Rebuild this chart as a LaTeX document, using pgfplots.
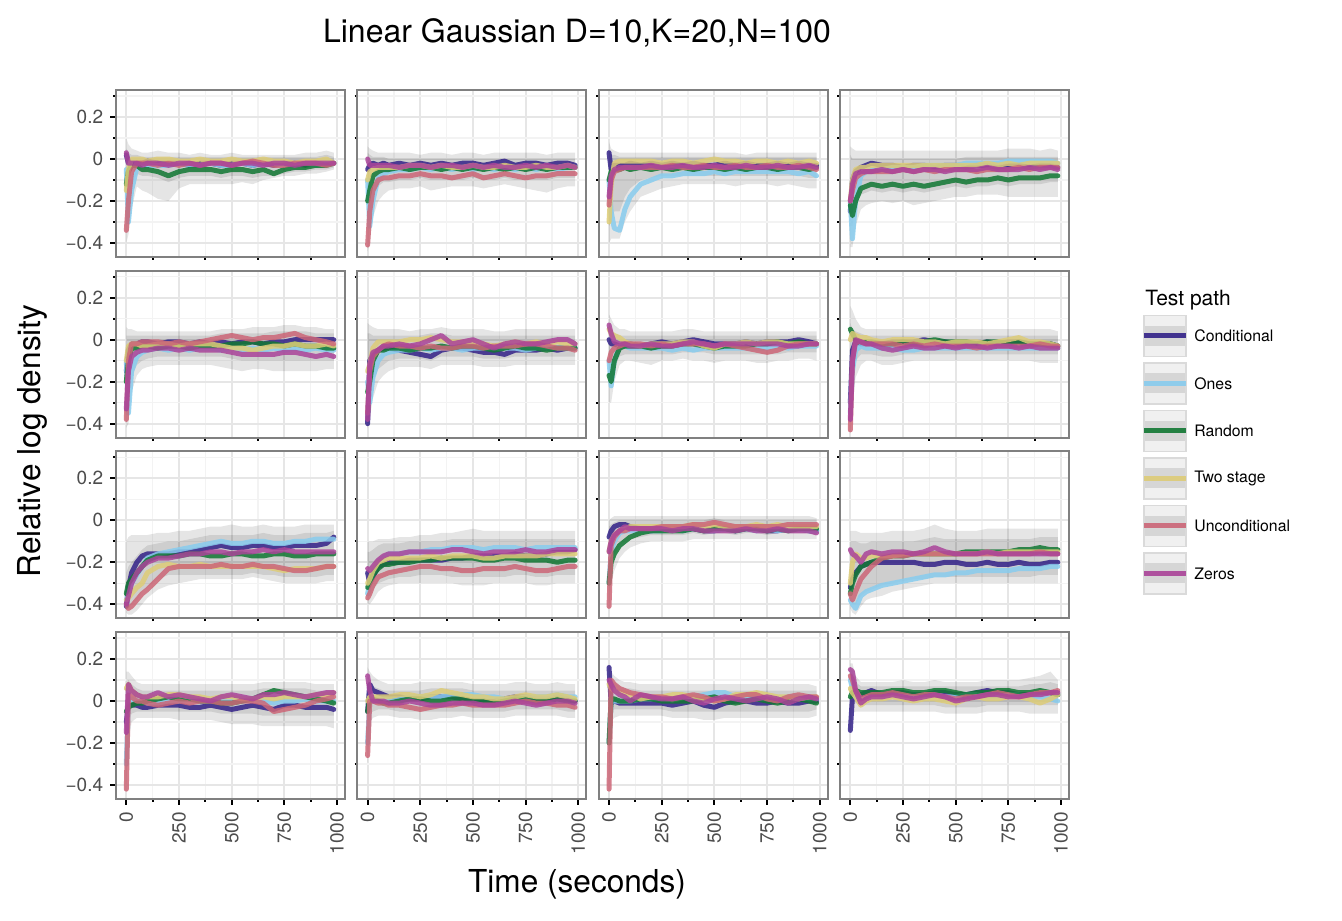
\documentclass[border=0pt]{standalone}
\usepackage{fontspec}
\setmainfont{TeX Gyre Heros}
\usepackage{pgfplots}
\pgfplotsset{compat=1.18}
\usepackage{pgfplotstable}
\usepgfplotslibrary{fillbetween}

\definecolor{cC}{HTML}{332288}
\definecolor{cO}{HTML}{88CCEE}
\definecolor{cR}{HTML}{117733}
\definecolor{cT}{HTML}{DDCC77}
\definecolor{cU}{HTML}{CC6677}
\definecolor{cZ}{HTML}{AA4499}
\definecolor{gmaj}{HTML}{E6E6E6}
\definecolor{gmin}{HTML}{F3F3F3}
\definecolor{gborder}{HTML}{808080}
\definecolor{tickgrey}{HTML}{4D4D4D}
\definecolor{lgout}{HTML}{F0F0F0}
\definecolor{lgmid}{HTML}{D6D6D6}
\definecolor{lgbord}{HTML}{DADADA}

% ---------------- data: row a (top) ----------------
\pgfplotstableread{
t C O R T U Z lo hi ilo ihi
0 0.02 -0.05 -0.12 -0.15 -0.34 0.03 -0.40 0.10 -0.30 0.05
10 -0.02 -0.30 -0.06 -0.05 -0.20 -0.02 -0.36 0.07 -0.25 0.03
25 -0.02 -0.15 -0.03 0.00 -0.06 -0.02 -0.24 0.05 -0.12 0.02
50 -0.02 -0.04 -0.03 0.00 -0.02 -0.02 -0.13 0.04 -0.07 0.02
75 -0.02 -0.03 -0.05 0.00 -0.02 -0.03 -0.15 0.03 -0.08 0.01
100 -0.01 -0.03 -0.05 -0.01 -0.02 -0.02 -0.16 0.03 -0.08 0.01
150 -0.02 -0.03 -0.06 0.00 -0.03 -0.02 -0.19 0.04 -0.09 0.01
200 -0.02 -0.03 -0.08 0.00 -0.02 -0.03 -0.20 0.03 -0.11 0.01
250 -0.02 -0.02 -0.06 -0.01 -0.03 -0.02 -0.14 0.03 -0.09 0.01
300 -0.03 -0.03 -0.05 -0.01 -0.02 -0.02 -0.12 0.02 -0.08 0.01
350 -0.02 -0.03 -0.05 0.00 -0.03 -0.03 -0.12 0.03 -0.08 0.01
400 -0.02 -0.02 -0.05 -0.01 -0.02 -0.02 -0.12 0.02 -0.08 0.01
450 -0.03 -0.03 -0.06 -0.01 -0.02 -0.02 -0.12 0.02 -0.09 0.01
500 -0.02 -0.03 -0.05 0.00 -0.03 -0.03 -0.12 0.03 -0.08 0.01
550 -0.02 -0.02 -0.05 -0.01 -0.02 -0.02 -0.11 0.02 -0.08 0.01
600 -0.03 -0.03 -0.06 -0.01 -0.01 -0.02 -0.12 0.02 -0.09 0.01
650 -0.02 -0.02 -0.05 0.00 -0.02 -0.03 -0.10 0.02 -0.08 0.01
700 -0.03 -0.02 -0.07 -0.01 -0.03 -0.02 -0.09 0.02 -0.08 0.01
750 -0.02 -0.03 -0.05 -0.01 -0.03 -0.02 -0.08 0.02 -0.07 0.01
800 -0.02 -0.02 -0.04 -0.02 -0.02 -0.03 -0.08 0.02 -0.06 0.01
850 -0.03 -0.02 -0.04 -0.01 -0.02 -0.02 -0.07 0.03 -0.06 0.01
900 -0.02 -0.03 -0.03 -0.01 -0.02 -0.02 -0.07 0.03 -0.05 0.01
950 -0.02 -0.02 -0.03 0.00 -0.03 -0.02 -0.06 0.04 -0.05 0.02
985 -0.02 -0.02 -0.02 -0.02 -0.02 -0.02 -0.05 0.03 -0.04 0.01
}\Taa

\pgfplotstableread{
t C O R T U Z lo hi ilo ihi
0 -0.05 -0.10 -0.20 -0.10 -0.41 0.00 -0.44 0.06 -0.30 0.03
10 -0.03 -0.32 -0.15 -0.06 -0.25 -0.03 -0.40 0.05 -0.30 0.02
25 -0.02 -0.20 -0.08 -0.05 -0.15 -0.03 -0.28 0.04 -0.18 0.01
50 -0.03 -0.09 -0.06 -0.04 -0.10 -0.03 -0.20 0.03 -0.13 0.01
75 -0.02 -0.07 -0.05 -0.04 -0.09 -0.03 -0.17 0.03 -0.11 0.01
100 -0.03 -0.06 -0.05 -0.04 -0.09 -0.03 -0.15 0.03 -0.11 0.00
150 -0.02 -0.05 -0.04 -0.04 -0.08 -0.04 -0.14 0.03 -0.10 0.00
200 -0.03 -0.05 -0.05 -0.03 -0.08 -0.03 -0.14 0.03 -0.10 0.00
250 -0.02 -0.04 -0.04 -0.03 -0.07 -0.03 -0.13 0.02 -0.09 0.00
300 -0.03 -0.05 -0.04 -0.04 -0.08 -0.04 -0.15 0.03 -0.10 0.00
350 -0.02 -0.04 -0.05 -0.03 -0.08 -0.03 -0.14 0.03 -0.10 0.00
400 -0.03 -0.05 -0.04 -0.04 -0.09 -0.03 -0.13 0.02 -0.10 0.00
450 -0.02 -0.04 -0.05 -0.04 -0.08 -0.04 -0.13 0.03 -0.10 0.00
500 -0.02 -0.05 -0.04 -0.03 -0.07 -0.03 -0.13 0.03 -0.09 0.00
550 -0.03 -0.04 -0.05 -0.04 -0.09 -0.04 -0.14 0.02 -0.10 0.00
600 -0.02 -0.05 -0.04 -0.04 -0.08 -0.03 -0.13 0.03 -0.10 0.00
650 -0.01 -0.04 -0.05 -0.03 -0.07 -0.04 -0.12 0.03 -0.09 0.00
700 -0.03 -0.05 -0.04 -0.04 -0.08 -0.04 -0.13 0.03 -0.10 0.00
750 -0.02 -0.04 -0.05 -0.04 -0.09 -0.03 -0.14 0.03 -0.10 0.00
800 -0.02 -0.05 -0.04 -0.03 -0.08 -0.04 -0.15 0.03 -0.10 0.00
850 -0.03 -0.04 -0.05 -0.04 -0.08 -0.03 -0.16 0.02 -0.10 0.00
900 -0.02 -0.05 -0.04 -0.04 -0.07 -0.04 -0.14 0.03 -0.09 0.00
950 -0.02 -0.04 -0.04 -0.03 -0.07 -0.03 -0.13 0.03 -0.09 0.00
985 -0.03 -0.04 -0.04 -0.04 -0.07 -0.04 -0.13 0.03 -0.09 0.00
}\Tab

\pgfplotstableread{
t C O R T U Z lo hi ilo ihi
0 0.03 -0.10 -0.10 -0.30 -0.22 -0.18 -0.40 0.08 -0.32 0.04
10 -0.05 -0.25 -0.06 -0.12 -0.10 -0.08 -0.38 0.05 -0.30 0.02
25 -0.03 -0.33 -0.05 -0.02 -0.06 -0.05 -0.38 0.04 -0.25 0.02
50 -0.03 -0.34 -0.05 -0.01 -0.05 -0.04 -0.38 0.03 -0.25 0.01
75 -0.03 -0.24 -0.04 -0.01 -0.04 -0.04 -0.30 0.03 -0.18 0.01
100 -0.02 -0.18 -0.05 -0.01 -0.04 -0.04 -0.25 0.03 -0.14 0.01
150 -0.03 -0.12 -0.04 -0.01 -0.04 -0.04 -0.18 0.03 -0.10 0.01
200 -0.02 -0.10 -0.05 -0.01 -0.04 -0.03 -0.16 0.03 -0.09 0.01
250 -0.03 -0.08 -0.04 -0.02 -0.04 -0.04 -0.14 0.03 -0.08 0.01
300 -0.02 -0.08 -0.05 -0.01 -0.03 -0.04 -0.13 0.03 -0.08 0.01
350 -0.03 -0.07 -0.04 -0.01 -0.04 -0.03 -0.12 0.03 -0.08 0.01
400 -0.02 -0.07 -0.05 -0.02 -0.04 -0.04 -0.12 0.03 -0.08 0.01
450 -0.03 -0.07 -0.04 -0.01 -0.03 -0.04 -0.12 0.03 -0.08 0.01
500 -0.03 -0.06 -0.04 0.00 -0.04 -0.03 -0.12 0.03 -0.08 0.01
550 -0.02 -0.07 -0.05 -0.01 -0.04 -0.04 -0.12 0.03 -0.08 0.01
600 -0.03 -0.06 -0.04 -0.01 -0.03 -0.04 -0.13 0.03 -0.08 0.01
650 -0.02 -0.06 -0.05 -0.02 -0.04 -0.03 -0.12 0.02 -0.08 0.01
700 -0.03 -0.06 -0.04 -0.01 -0.04 -0.04 -0.12 0.03 -0.08 0.01
750 -0.03 -0.06 -0.04 -0.01 -0.03 -0.04 -0.12 0.03 -0.08 0.01
800 -0.02 -0.06 -0.05 -0.02 -0.04 -0.03 -0.13 0.03 -0.08 0.01
850 -0.03 -0.06 -0.04 -0.01 -0.04 -0.04 -0.12 0.03 -0.08 0.01
900 -0.02 -0.07 -0.04 -0.02 -0.03 -0.04 -0.13 0.03 -0.08 0.01
950 -0.03 -0.06 -0.05 -0.01 -0.04 -0.03 -0.14 0.03 -0.09 0.01
985 -0.03 -0.08 -0.04 -0.02 -0.05 -0.04 -0.14 0.03 -0.09 0.01
}\Tac

\pgfplotstableread{
t C O R T U Z lo hi ilo ihi
0 -0.25 -0.20 -0.22 -0.20 -0.20 -0.20 -0.42 0.06 -0.32 0.02
10 -0.10 -0.38 -0.27 -0.10 -0.15 -0.12 -0.42 0.05 -0.32 0.00
25 -0.06 -0.20 -0.20 -0.05 -0.09 -0.07 -0.32 0.04 -0.22 0.00
50 -0.04 -0.08 -0.14 -0.04 -0.07 -0.06 -0.24 0.04 -0.17 0.00
75 -0.03 -0.06 -0.13 -0.04 -0.06 -0.06 -0.22 0.04 -0.16 0.00
100 -0.02 -0.05 -0.12 -0.03 -0.06 -0.06 -0.21 0.04 -0.15 0.00
150 -0.03 -0.05 -0.13 -0.03 -0.06 -0.05 -0.20 0.04 -0.16 0.00
200 -0.03 -0.04 -0.12 -0.03 -0.06 -0.06 -0.21 0.04 -0.15 0.00
250 -0.04 -0.04 -0.13 -0.03 -0.05 -0.05 -0.20 0.04 -0.16 0.00
300 -0.03 -0.04 -0.12 -0.03 -0.06 -0.06 -0.22 0.04 -0.15 0.00
350 -0.03 -0.03 -0.13 -0.03 -0.05 -0.05 -0.21 0.04 -0.16 0.00
400 -0.04 -0.03 -0.12 -0.03 -0.06 -0.05 -0.20 0.04 -0.15 0.00
450 -0.03 -0.03 -0.11 -0.03 -0.05 -0.06 -0.19 0.04 -0.14 0.00
500 -0.03 -0.03 -0.10 -0.03 -0.05 -0.05 -0.18 0.04 -0.13 0.00
550 -0.04 -0.02 -0.11 -0.03 -0.05 -0.05 -0.18 0.04 -0.14 0.01
600 -0.03 -0.02 -0.10 -0.03 -0.06 -0.05 -0.17 0.04 -0.13 0.01
650 -0.03 -0.02 -0.10 -0.02 -0.05 -0.04 -0.17 0.04 -0.13 0.01
700 -0.04 -0.02 -0.09 -0.03 -0.05 -0.05 -0.17 0.04 -0.12 0.01
750 -0.03 -0.01 -0.10 -0.02 -0.05 -0.05 -0.18 0.05 -0.13 0.01
800 -0.03 -0.01 -0.09 -0.03 -0.04 -0.05 -0.18 0.05 -0.12 0.01
850 -0.04 -0.01 -0.09 -0.02 -0.05 -0.04 -0.18 0.05 -0.12 0.01
900 -0.03 -0.01 -0.09 -0.02 -0.04 -0.05 -0.18 0.04 -0.12 0.01
950 -0.03 -0.01 -0.08 -0.02 -0.04 -0.04 -0.18 0.05 -0.11 0.01
985 -0.04 -0.02 -0.08 -0.02 -0.04 -0.05 -0.18 0.04 -0.11 0.01
}\Tad

% ---------------- row b ----------------
\pgfplotstableread{
t C O R T U Z lo hi ilo ihi
0 -0.15 -0.10 -0.20 -0.10 -0.38 -0.33 -0.42 0.06 -0.32 0.02
10 -0.05 -0.35 -0.10 -0.03 -0.10 -0.15 -0.40 0.05 -0.30 0.02
25 -0.02 -0.15 -0.04 -0.02 -0.02 -0.08 -0.25 0.05 -0.18 0.02
50 -0.02 -0.08 -0.04 -0.02 -0.02 -0.06 -0.17 0.04 -0.12 0.02
75 -0.01 -0.06 -0.03 -0.03 -0.01 -0.05 -0.14 0.04 -0.10 0.02
100 -0.01 -0.05 -0.03 -0.03 -0.01 -0.05 -0.13 0.04 -0.09 0.02
150 -0.02 -0.04 -0.04 -0.02 -0.01 -0.04 -0.12 0.04 -0.08 0.02
200 -0.01 -0.05 -0.03 -0.02 -0.02 -0.04 -0.12 0.04 -0.08 0.02
250 -0.01 -0.04 -0.03 -0.03 -0.01 -0.05 -0.12 0.04 -0.08 0.02
300 -0.02 -0.05 -0.04 -0.02 -0.02 -0.04 -0.12 0.04 -0.08 0.02
350 -0.01 -0.04 -0.03 -0.02 -0.01 -0.05 -0.12 0.04 -0.08 0.02
400 -0.02 -0.04 -0.03 -0.02 0.00 -0.05 -0.12 0.04 -0.08 0.02
450 -0.01 -0.05 -0.03 -0.03 0.01 -0.05 -0.13 0.05 -0.08 0.03
500 -0.02 -0.04 -0.02 -0.04 0.02 -0.06 -0.14 0.05 -0.09 0.03
550 -0.01 -0.05 -0.02 -0.04 0.01 -0.07 -0.15 0.05 -0.10 0.03
600 -0.01 -0.04 -0.01 -0.05 0.00 -0.07 -0.14 0.06 -0.10 0.03
650 -0.02 -0.05 -0.02 -0.04 0.01 -0.07 -0.14 0.06 -0.10 0.03
700 -0.01 -0.04 -0.02 -0.03 0.01 -0.07 -0.15 0.06 -0.10 0.04
750 -0.01 -0.05 -0.03 -0.03 0.02 -0.06 -0.15 0.07 -0.10 0.04
800 0.00 -0.04 -0.02 -0.02 0.03 -0.06 -0.15 0.07 -0.10 0.04
850 0.00 -0.05 -0.03 -0.03 0.01 -0.07 -0.15 0.06 -0.10 0.04
900 0.00 -0.04 -0.03 -0.03 0.00 -0.08 -0.15 0.06 -0.10 0.03
950 0.00 -0.05 -0.04 -0.02 -0.01 -0.07 -0.14 0.05 -0.10 0.03
985 0.00 -0.05 -0.04 -0.03 -0.02 -0.08 -0.14 0.05 -0.10 0.03
}\Tba

\pgfplotstableread{
t C O R T U Z lo hi ilo ihi
0 -0.40 -0.20 -0.25 -0.15 -0.35 -0.38 -0.42 0.08 -0.34 0.03
10 -0.10 -0.30 -0.20 -0.12 -0.15 -0.12 -0.38 0.07 -0.30 0.03
25 -0.07 -0.18 -0.10 -0.04 -0.08 -0.06 -0.28 0.06 -0.20 0.02
50 -0.05 -0.10 -0.05 -0.01 -0.05 -0.05 -0.20 0.05 -0.14 0.02
75 -0.04 -0.07 -0.05 -0.01 -0.03 -0.03 -0.17 0.05 -0.12 0.02
100 -0.04 -0.06 -0.04 -0.01 -0.02 -0.03 -0.15 0.05 -0.10 0.02
150 -0.05 -0.05 -0.04 -0.01 -0.03 -0.02 -0.13 0.05 -0.09 0.02
200 -0.06 -0.05 -0.05 0.00 -0.03 -0.03 -0.13 0.04 -0.09 0.02
250 -0.07 -0.04 -0.04 0.00 -0.04 -0.02 -0.13 0.05 -0.09 0.02
300 -0.08 -0.05 -0.04 0.01 -0.03 0.00 -0.14 0.05 -0.10 0.03
350 -0.05 -0.04 -0.03 0.00 -0.04 0.02 -0.12 0.06 -0.08 0.03
400 -0.04 -0.04 -0.04 -0.01 -0.04 -0.02 -0.12 0.05 -0.08 0.02
450 -0.04 -0.05 -0.03 -0.01 -0.03 -0.01 -0.12 0.05 -0.08 0.02
500 -0.05 -0.04 -0.03 -0.01 -0.03 0.00 -0.12 0.05 -0.08 0.02
550 -0.06 -0.04 -0.04 -0.02 -0.04 -0.02 -0.13 0.05 -0.09 0.02
600 -0.06 -0.04 -0.05 -0.03 -0.03 -0.04 -0.13 0.04 -0.09 0.02
650 -0.07 -0.04 -0.04 -0.02 -0.03 -0.02 -0.13 0.04 -0.09 0.02
700 -0.05 -0.04 -0.03 -0.01 -0.03 -0.01 -0.12 0.05 -0.08 0.02
750 -0.05 -0.05 -0.04 -0.02 -0.02 -0.02 -0.12 0.05 -0.08 0.02
800 -0.05 -0.04 -0.04 -0.01 -0.02 -0.02 -0.12 0.05 -0.08 0.02
850 -0.04 -0.04 -0.05 -0.02 -0.03 -0.01 -0.12 0.05 -0.08 0.02
900 -0.05 -0.04 -0.04 -0.01 -0.04 0.00 -0.12 0.05 -0.08 0.02
950 -0.04 -0.04 -0.04 -0.02 -0.04 0.00 -0.12 0.05 -0.08 0.02
985 -0.04 -0.04 -0.04 -0.02 -0.05 -0.02 -0.12 0.05 -0.08 0.02
}\Tbb

\pgfplotstableread{
t C O R T U Z lo hi ilo ihi
0 0.00 -0.10 -0.17 0.05 -0.10 0.07 -0.30 0.12 -0.22 0.08
10 -0.02 -0.22 -0.20 0.03 -0.06 0.03 -0.30 0.10 -0.22 0.05
25 -0.02 -0.10 -0.10 0.02 -0.04 -0.01 -0.20 0.07 -0.14 0.03
50 -0.03 -0.03 -0.04 0.01 -0.03 -0.02 -0.12 0.05 -0.08 0.02
75 -0.02 -0.03 -0.03 -0.01 -0.02 -0.02 -0.10 0.05 -0.07 0.02
100 -0.02 -0.04 -0.03 -0.02 -0.02 -0.03 -0.10 0.04 -0.07 0.02
150 -0.03 -0.04 -0.03 -0.03 -0.02 -0.03 -0.11 0.04 -0.07 0.02
200 -0.02 -0.04 -0.04 -0.02 -0.03 -0.02 -0.12 0.04 -0.07 0.02
250 -0.01 -0.04 -0.03 -0.02 -0.02 -0.03 -0.10 0.04 -0.07 0.02
300 -0.02 -0.05 -0.03 -0.02 -0.03 -0.03 -0.10 0.04 -0.07 0.02
350 -0.01 -0.04 -0.02 -0.01 -0.02 -0.02 -0.09 0.05 -0.06 0.02
400 0.00 -0.05 -0.02 -0.01 -0.02 -0.01 -0.10 0.05 -0.06 0.02
450 -0.01 -0.04 -0.03 -0.03 -0.02 -0.02 -0.10 0.04 -0.06 0.02
500 -0.02 -0.04 -0.04 -0.04 -0.03 -0.03 -0.11 0.04 -0.07 0.02
550 -0.02 -0.04 -0.03 -0.02 -0.02 -0.02 -0.10 0.04 -0.07 0.02
600 -0.02 -0.04 -0.03 -0.02 -0.03 -0.02 -0.10 0.04 -0.07 0.02
650 -0.01 -0.04 -0.03 -0.01 -0.04 -0.02 -0.10 0.04 -0.07 0.02
700 -0.02 -0.04 -0.02 -0.02 -0.05 -0.02 -0.11 0.04 -0.07 0.02
750 -0.01 -0.04 -0.02 -0.01 -0.06 -0.02 -0.11 0.04 -0.07 0.02
800 -0.01 -0.03 -0.01 -0.01 -0.05 -0.02 -0.10 0.04 -0.07 0.02
850 -0.01 -0.04 -0.02 -0.02 -0.03 -0.03 -0.10 0.04 -0.06 0.02
900 0.00 -0.03 -0.01 -0.02 -0.02 -0.03 -0.09 0.04 -0.06 0.02
950 -0.01 -0.03 -0.02 -0.02 -0.02 -0.02 -0.09 0.04 -0.06 0.02
985 -0.02 -0.03 -0.02 -0.02 -0.02 -0.02 -0.10 0.04 -0.06 0.02
}\Tbc

\pgfplotstableread{
t C O R T U Z lo hi ilo ihi
0 -0.30 -0.35 0.05 0.00 -0.43 -0.38 -0.45 0.16 -0.35 0.08
10 -0.05 -0.15 0.03 0.03 -0.10 -0.10 -0.30 0.14 -0.20 0.05
25 -0.01 -0.05 0.00 0.02 -0.01 0.00 -0.18 0.10 -0.10 0.04
50 -0.02 -0.03 -0.01 0.01 -0.01 -0.01 -0.12 0.06 -0.07 0.03
75 -0.02 -0.04 -0.01 0.01 -0.02 -0.02 -0.10 0.05 -0.07 0.02
100 -0.02 -0.04 -0.01 0.00 -0.02 -0.02 -0.10 0.05 -0.07 0.02
150 -0.02 -0.04 -0.02 -0.01 -0.02 -0.04 -0.12 0.05 -0.08 0.02
200 -0.01 -0.04 -0.02 0.00 -0.02 -0.05 -0.12 0.05 -0.08 0.02
250 -0.01 -0.05 -0.01 0.00 -0.03 -0.04 -0.11 0.05 -0.07 0.02
300 -0.01 -0.05 -0.02 0.00 -0.02 -0.03 -0.10 0.05 -0.07 0.02
350 0.00 -0.04 -0.01 -0.01 -0.03 -0.04 -0.10 0.05 -0.07 0.02
400 -0.01 -0.04 0.00 -0.01 -0.02 -0.04 -0.10 0.05 -0.07 0.02
450 -0.01 -0.04 -0.01 -0.02 -0.03 -0.03 -0.10 0.05 -0.07 0.02
500 -0.02 -0.04 -0.01 -0.01 -0.03 -0.04 -0.10 0.05 -0.07 0.02
550 -0.02 -0.04 -0.01 -0.01 -0.03 -0.03 -0.10 0.05 -0.07 0.02
600 -0.02 -0.04 -0.02 -0.01 -0.04 -0.03 -0.10 0.05 -0.07 0.02
650 -0.01 -0.04 -0.01 -0.02 -0.03 -0.04 -0.10 0.05 -0.07 0.02
700 -0.02 -0.04 -0.01 -0.01 -0.03 -0.03 -0.10 0.05 -0.07 0.02
750 -0.01 -0.04 -0.02 0.00 -0.03 -0.03 -0.10 0.05 -0.07 0.02
800 -0.01 -0.04 -0.01 0.01 -0.03 -0.04 -0.10 0.05 -0.07 0.02
850 -0.02 -0.04 -0.02 -0.01 -0.03 -0.03 -0.10 0.05 -0.07 0.02
900 -0.02 -0.04 -0.02 -0.01 -0.02 -0.04 -0.11 0.05 -0.07 0.02
950 -0.02 -0.04 -0.02 -0.02 -0.03 -0.04 -0.11 0.05 -0.07 0.02
985 -0.03 -0.04 -0.03 -0.03 -0.03 -0.04 -0.11 0.04 -0.07 0.02
}\Tbd

% ---------------- row c ----------------
\pgfplotstableread{
t C O R T U Z lo hi ilo ihi
0 -0.41 -0.38 -0.35 -0.38 -0.40 -0.40 -0.44 -0.10 -0.42 -0.25
10 -0.32 -0.35 -0.30 -0.37 -0.42 -0.36 -0.45 -0.08 -0.42 -0.22
25 -0.25 -0.30 -0.28 -0.35 -0.41 -0.30 -0.45 -0.07 -0.40 -0.20
50 -0.20 -0.26 -0.25 -0.32 -0.38 -0.25 -0.43 -0.07 -0.38 -0.17
75 -0.17 -0.22 -0.22 -0.30 -0.35 -0.22 -0.40 -0.07 -0.34 -0.14
100 -0.16 -0.18 -0.19 -0.25 -0.33 -0.20 -0.37 -0.07 -0.32 -0.12
150 -0.16 -0.16 -0.17 -0.22 -0.28 -0.18 -0.33 -0.06 -0.28 -0.11
200 -0.16 -0.15 -0.17 -0.21 -0.23 -0.18 -0.31 -0.06 -0.26 -0.10
250 -0.15 -0.14 -0.17 -0.22 -0.22 -0.17 -0.30 -0.05 -0.26 -0.10
300 -0.15 -0.13 -0.16 -0.22 -0.22 -0.16 -0.29 -0.05 -0.26 -0.09
350 -0.14 -0.12 -0.16 -0.21 -0.22 -0.16 -0.28 -0.04 -0.26 -0.08
400 -0.13 -0.11 -0.17 -0.22 -0.22 -0.15 -0.28 -0.03 -0.26 -0.07
450 -0.12 -0.10 -0.17 -0.22 -0.21 -0.15 -0.28 -0.03 -0.26 -0.07
500 -0.13 -0.11 -0.16 -0.22 -0.22 -0.16 -0.28 -0.02 -0.26 -0.07
550 -0.13 -0.11 -0.16 -0.22 -0.22 -0.15 -0.28 -0.03 -0.26 -0.07
600 -0.12 -0.10 -0.17 -0.22 -0.21 -0.15 -0.27 -0.03 -0.25 -0.07
650 -0.12 -0.10 -0.17 -0.22 -0.22 -0.14 -0.28 -0.02 -0.26 -0.06
700 -0.13 -0.11 -0.16 -0.23 -0.22 -0.15 -0.29 -0.03 -0.26 -0.07
750 -0.13 -0.11 -0.16 -0.24 -0.23 -0.14 -0.30 -0.03 -0.27 -0.07
800 -0.12 -0.10 -0.17 -0.23 -0.24 -0.15 -0.30 -0.03 -0.27 -0.07
850 -0.12 -0.10 -0.17 -0.23 -0.24 -0.15 -0.30 -0.02 -0.27 -0.06
900 -0.12 -0.09 -0.16 -0.23 -0.23 -0.15 -0.30 -0.02 -0.27 -0.06
950 -0.11 -0.09 -0.16 -0.22 -0.22 -0.15 -0.29 -0.02 -0.26 -0.06
985 -0.08 -0.09 -0.16 -0.22 -0.22 -0.15 -0.29 -0.02 -0.26 -0.05
}\Tca

\pgfplotstableread{
t C O R T U Z lo hi ilo ihi
0 -0.25 -0.35 -0.32 -0.30 -0.37 -0.23 -0.40 -0.10 -0.36 -0.15
10 -0.30 -0.30 -0.30 -0.28 -0.35 -0.24 -0.40 -0.10 -0.36 -0.15
25 -0.27 -0.25 -0.26 -0.24 -0.31 -0.22 -0.38 -0.10 -0.33 -0.14
50 -0.22 -0.20 -0.23 -0.20 -0.27 -0.19 -0.34 -0.09 -0.30 -0.12
75 -0.21 -0.18 -0.21 -0.19 -0.26 -0.17 -0.32 -0.09 -0.29 -0.11
100 -0.20 -0.16 -0.21 -0.18 -0.25 -0.16 -0.31 -0.09 -0.28 -0.11
150 -0.20 -0.16 -0.20 -0.18 -0.24 -0.16 -0.30 -0.08 -0.27 -0.11
200 -0.19 -0.15 -0.20 -0.18 -0.23 -0.15 -0.30 -0.08 -0.27 -0.10
250 -0.19 -0.15 -0.19 -0.18 -0.22 -0.15 -0.30 -0.07 -0.26 -0.10
300 -0.19 -0.14 -0.19 -0.17 -0.22 -0.15 -0.30 -0.07 -0.26 -0.10
350 -0.19 -0.14 -0.18 -0.18 -0.23 -0.15 -0.30 -0.06 -0.26 -0.10
400 -0.18 -0.13 -0.18 -0.17 -0.23 -0.14 -0.30 -0.06 -0.27 -0.09
450 -0.18 -0.13 -0.18 -0.17 -0.24 -0.14 -0.31 -0.05 -0.27 -0.09
500 -0.17 -0.13 -0.18 -0.17 -0.24 -0.15 -0.31 -0.04 -0.27 -0.09
550 -0.17 -0.14 -0.19 -0.18 -0.23 -0.16 -0.31 -0.05 -0.27 -0.09
600 -0.17 -0.13 -0.19 -0.18 -0.23 -0.15 -0.30 -0.05 -0.27 -0.09
650 -0.17 -0.13 -0.18 -0.17 -0.23 -0.15 -0.30 -0.05 -0.27 -0.09
700 -0.16 -0.13 -0.18 -0.17 -0.22 -0.15 -0.30 -0.05 -0.26 -0.09
750 -0.17 -0.14 -0.19 -0.17 -0.23 -0.14 -0.30 -0.05 -0.26 -0.09
800 -0.17 -0.13 -0.19 -0.17 -0.24 -0.15 -0.31 -0.05 -0.27 -0.09
850 -0.16 -0.13 -0.19 -0.16 -0.24 -0.15 -0.31 -0.05 -0.27 -0.09
900 -0.15 -0.13 -0.20 -0.16 -0.23 -0.14 -0.30 -0.05 -0.26 -0.09
950 -0.15 -0.13 -0.19 -0.16 -0.22 -0.14 -0.30 -0.05 -0.26 -0.09
985 -0.14 -0.13 -0.19 -0.16 -0.22 -0.14 -0.30 -0.05 -0.26 -0.09
}\Tcb

\pgfplotstableread{
t C O R T U Z lo hi ilo ihi
0 -0.08 -0.30 -0.30 -0.15 -0.41 -0.15 -0.43 0.00 -0.35 -0.03
10 -0.05 -0.15 -0.20 -0.10 -0.12 -0.10 -0.30 0.01 -0.22 -0.02
25 -0.03 -0.10 -0.16 -0.07 -0.08 -0.07 -0.24 0.02 -0.16 -0.01
50 -0.02 -0.06 -0.12 -0.05 -0.05 -0.05 -0.18 0.02 -0.12 0.00
75 -0.02 -0.05 -0.10 -0.04 -0.05 -0.03 -0.15 0.02 -0.10 0.00
100 -0.03 -0.05 -0.08 -0.03 -0.04 -0.04 -0.13 0.02 -0.09 0.00
150 -0.04 -0.05 -0.06 -0.03 -0.04 -0.04 -0.11 0.02 -0.08 0.00
200 -0.05 -0.05 -0.05 -0.03 -0.04 -0.04 -0.10 0.02 -0.07 0.00
250 -0.04 -0.05 -0.05 -0.03 -0.03 -0.04 -0.10 0.02 -0.07 0.00
300 -0.04 -0.04 -0.05 -0.03 -0.03 -0.05 -0.10 0.02 -0.07 0.00
350 -0.04 -0.05 -0.05 -0.03 -0.03 -0.04 -0.10 0.02 -0.07 0.00
400 -0.04 -0.04 -0.04 -0.02 -0.02 -0.04 -0.09 0.02 -0.06 0.00
450 -0.05 -0.04 -0.05 -0.03 -0.02 -0.05 -0.09 0.02 -0.07 0.00
500 -0.05 -0.05 -0.04 -0.02 -0.01 -0.05 -0.09 0.02 -0.06 0.01
550 -0.04 -0.04 -0.04 -0.03 -0.02 -0.05 -0.09 0.02 -0.06 0.00
600 -0.05 -0.05 -0.05 -0.03 -0.03 -0.05 -0.09 0.02 -0.07 0.00
650 -0.04 -0.04 -0.04 -0.03 -0.03 -0.04 -0.09 0.02 -0.06 0.00
700 -0.04 -0.05 -0.04 -0.02 -0.03 -0.05 -0.09 0.02 -0.06 0.00
750 -0.05 -0.04 -0.05 -0.03 -0.03 -0.05 -0.09 0.02 -0.07 0.00
800 -0.05 -0.05 -0.04 -0.02 -0.03 -0.04 -0.09 0.02 -0.06 0.00
850 -0.04 -0.04 -0.05 -0.03 -0.02 -0.05 -0.09 0.02 -0.06 0.00
900 -0.04 -0.04 -0.04 -0.03 -0.02 -0.05 -0.09 0.02 -0.06 0.00
950 -0.05 -0.05 -0.04 -0.03 -0.02 -0.05 -0.09 0.02 -0.06 0.00
985 -0.05 -0.05 -0.04 -0.03 -0.02 -0.06 -0.09 0.01 -0.07 0.00
}\Tcc

\pgfplotstableread{
t C O R T U Z lo hi ilo ihi
0 -0.32 -0.38 -0.35 -0.30 -0.35 -0.14 -0.42 -0.05 -0.38 -0.10
10 -0.28 -0.40 -0.30 -0.20 -0.38 -0.16 -0.44 -0.05 -0.40 -0.10
25 -0.25 -0.42 -0.26 -0.16 -0.34 -0.17 -0.45 -0.05 -0.40 -0.10
50 -0.22 -0.36 -0.22 -0.18 -0.28 -0.20 -0.41 -0.06 -0.36 -0.11
75 -0.21 -0.34 -0.21 -0.18 -0.25 -0.16 -0.38 -0.06 -0.34 -0.11
100 -0.20 -0.33 -0.20 -0.17 -0.22 -0.15 -0.37 -0.06 -0.33 -0.10
150 -0.20 -0.31 -0.18 -0.17 -0.18 -0.16 -0.36 -0.06 -0.31 -0.10
200 -0.20 -0.30 -0.17 -0.17 -0.17 -0.15 -0.34 -0.05 -0.30 -0.10
250 -0.20 -0.29 -0.17 -0.16 -0.17 -0.15 -0.33 -0.05 -0.29 -0.10
300 -0.20 -0.28 -0.16 -0.16 -0.16 -0.16 -0.32 -0.05 -0.28 -0.10
350 -0.21 -0.27 -0.16 -0.16 -0.16 -0.15 -0.31 -0.04 -0.28 -0.09
400 -0.21 -0.26 -0.16 -0.16 -0.16 -0.13 -0.30 -0.02 -0.27 -0.08
450 -0.20 -0.26 -0.16 -0.16 -0.16 -0.15 -0.30 -0.04 -0.27 -0.09
500 -0.20 -0.25 -0.16 -0.16 -0.16 -0.16 -0.30 -0.05 -0.27 -0.09
550 -0.21 -0.25 -0.15 -0.16 -0.16 -0.16 -0.30 -0.05 -0.27 -0.09
600 -0.21 -0.24 -0.15 -0.16 -0.16 -0.16 -0.30 -0.05 -0.27 -0.09
650 -0.20 -0.24 -0.15 -0.15 -0.16 -0.15 -0.30 -0.04 -0.27 -0.09
700 -0.21 -0.24 -0.15 -0.16 -0.16 -0.16 -0.30 -0.04 -0.27 -0.09
750 -0.21 -0.24 -0.15 -0.15 -0.16 -0.16 -0.30 -0.04 -0.27 -0.09
800 -0.20 -0.23 -0.14 -0.15 -0.16 -0.16 -0.30 -0.04 -0.27 -0.09
850 -0.21 -0.23 -0.14 -0.15 -0.16 -0.16 -0.30 -0.04 -0.27 -0.09
900 -0.21 -0.23 -0.13 -0.15 -0.15 -0.16 -0.30 -0.04 -0.26 -0.08
950 -0.20 -0.22 -0.14 -0.15 -0.16 -0.16 -0.30 -0.04 -0.26 -0.08
985 -0.20 -0.22 -0.14 -0.15 -0.16 -0.16 -0.30 -0.04 -0.26 -0.08
}\Tcd

% ---------------- row d ----------------
\pgfplotstableread{
t C O R T U Z lo hi ilo ihi
0 -0.10 -0.30 -0.05 0.06 -0.42 -0.15 -0.40 0.14 -0.30 0.08
10 -0.02 0.00 -0.03 0.08 0.03 0.08 -0.20 0.14 -0.10 0.10
25 -0.02 0.01 -0.02 0.05 0.02 0.05 -0.10 0.12 -0.06 0.08
50 -0.02 0.00 -0.01 0.03 0.00 0.03 -0.08 0.09 -0.05 0.06
75 -0.03 0.00 -0.01 0.02 0.00 0.02 -0.08 0.08 -0.05 0.05
100 -0.03 -0.01 0.00 0.02 -0.01 0.02 -0.08 0.08 -0.05 0.05
150 -0.02 -0.01 0.01 0.02 -0.02 0.04 -0.08 0.08 -0.05 0.05
200 -0.02 0.00 0.02 0.03 -0.01 0.02 -0.08 0.08 -0.05 0.05
250 -0.02 0.00 0.01 0.03 0.00 0.03 -0.09 0.08 -0.05 0.05
300 -0.03 0.01 0.01 0.02 -0.01 0.02 -0.09 0.08 -0.05 0.05
350 -0.03 0.00 0.00 0.02 0.00 0.01 -0.09 0.08 -0.05 0.05
400 -0.02 0.00 0.00 0.01 0.00 0.00 -0.09 0.08 -0.05 0.05
450 -0.03 0.01 -0.01 0.02 -0.01 0.02 -0.10 0.08 -0.06 0.05
500 -0.04 0.00 -0.01 0.02 -0.01 0.03 -0.11 0.08 -0.06 0.05
550 -0.03 0.01 0.00 0.01 0.00 0.02 -0.11 0.08 -0.06 0.05
600 -0.02 0.01 0.01 0.01 0.00 0.01 -0.11 0.08 -0.06 0.05
650 -0.03 0.00 0.03 0.02 -0.01 0.03 -0.12 0.09 -0.07 0.06
700 -0.04 -0.01 0.05 0.01 -0.05 0.03 -0.12 0.09 -0.07 0.06
750 -0.02 0.00 0.04 0.02 -0.04 0.04 -0.12 0.09 -0.07 0.06
800 -0.02 0.00 0.03 0.02 -0.03 0.03 -0.12 0.09 -0.07 0.06
850 -0.03 0.01 0.02 0.02 -0.02 0.02 -0.12 0.09 -0.07 0.06
900 -0.03 0.00 0.01 0.03 0.00 0.03 -0.12 0.08 -0.07 0.05
950 -0.03 0.00 0.00 0.03 0.01 0.04 -0.12 0.08 -0.07 0.05
985 -0.04 0.00 -0.01 0.04 0.02 0.04 -0.13 0.08 -0.07 0.05
}\Tda

\pgfplotstableread{
t C O R T U Z lo hi ilo ihi
0 -0.05 -0.20 -0.05 0.00 -0.26 0.12 -0.30 0.16 -0.20 0.12
10 0.08 0.00 0.01 0.02 0.00 0.05 -0.10 0.14 -0.06 0.10
25 0.05 0.00 0.01 0.02 0.00 0.00 -0.08 0.12 -0.05 0.07
50 0.04 0.01 0.00 0.02 -0.01 0.00 -0.07 0.10 -0.04 0.06
75 0.03 0.01 -0.01 0.02 -0.01 0.00 -0.07 0.09 -0.04 0.05
100 0.02 0.01 -0.01 0.02 -0.02 -0.01 -0.07 0.08 -0.04 0.05
150 0.02 0.01 0.00 0.03 -0.02 -0.01 -0.08 0.08 -0.05 0.05
200 0.01 0.02 0.01 0.03 -0.03 0.00 -0.08 0.08 -0.05 0.05
250 0.01 0.02 0.01 0.02 -0.04 -0.01 -0.09 0.09 -0.05 0.05
300 0.02 0.02 0.00 0.03 -0.03 -0.02 -0.09 0.09 -0.05 0.06
350 0.02 0.02 0.00 0.05 -0.02 -0.02 -0.08 0.09 -0.05 0.06
400 0.02 0.03 0.01 0.04 -0.02 -0.01 -0.08 0.09 -0.05 0.06
450 0.01 0.03 0.01 0.03 -0.01 -0.01 -0.07 0.09 -0.05 0.06
500 0.00 0.03 0.00 0.02 -0.02 -0.01 -0.08 0.08 -0.05 0.05
550 0.00 0.02 0.00 0.02 -0.02 -0.02 -0.08 0.08 -0.05 0.05
600 0.00 0.02 -0.01 0.01 -0.02 -0.02 -0.08 0.08 -0.05 0.05
650 0.01 0.01 0.00 0.01 -0.02 -0.01 -0.08 0.08 -0.05 0.05
700 0.02 0.01 0.01 0.02 -0.01 0.00 -0.07 0.09 -0.04 0.05
750 0.02 0.02 0.01 0.03 0.00 -0.01 -0.07 0.09 -0.04 0.05
800 0.01 0.02 0.00 0.02 -0.01 -0.02 -0.07 0.08 -0.04 0.05
850 0.01 0.02 0.00 0.02 -0.01 -0.01 -0.07 0.08 -0.04 0.05
900 0.02 0.03 0.01 0.03 -0.02 0.00 -0.07 0.09 -0.04 0.05
950 0.01 0.02 0.00 0.02 -0.02 0.00 -0.08 0.08 -0.05 0.05
985 0.00 0.02 0.00 0.01 -0.03 -0.01 -0.08 0.08 -0.05 0.05
}\Tdb

\pgfplotstableread{
t C O R T U Z lo hi ilo ihi
0 0.16 -0.20 -0.20 0.08 -0.42 0.10 -0.42 0.18 -0.30 0.14
10 -0.01 0.00 0.01 0.06 0.10 0.08 -0.10 0.14 -0.05 0.11
25 0.00 0.00 0.01 0.05 0.08 0.05 -0.08 0.12 -0.04 0.09
50 -0.01 0.00 0.00 0.04 0.06 0.03 -0.07 0.10 -0.04 0.07
75 -0.01 0.00 0.00 0.04 0.05 0.02 -0.07 0.09 -0.04 0.06
100 -0.01 0.00 0.00 0.03 0.04 0.00 -0.07 0.09 -0.04 0.06
150 -0.01 0.01 0.01 0.01 0.03 0.03 -0.07 0.08 -0.04 0.05
200 -0.01 0.01 0.01 0.02 0.02 0.02 -0.07 0.08 -0.04 0.05
250 -0.01 0.01 0.00 0.02 0.02 0.01 -0.07 0.08 -0.04 0.05
300 -0.02 0.01 0.00 0.03 0.01 0.01 -0.08 0.08 -0.05 0.05
350 -0.01 0.02 0.00 0.03 0.02 0.02 -0.08 0.08 -0.05 0.05
400 0.00 0.02 0.00 0.02 0.03 0.00 -0.08 0.08 -0.05 0.05
450 -0.02 0.03 0.01 0.01 0.02 -0.01 -0.09 0.08 -0.05 0.05
500 -0.03 0.04 0.02 0.00 0.00 0.01 -0.09 0.08 -0.05 0.05
550 -0.01 0.04 0.00 0.01 0.01 0.02 -0.08 0.08 -0.05 0.05
600 0.00 0.02 -0.01 0.03 0.02 0.01 -0.08 0.08 -0.05 0.05
650 0.00 0.02 0.00 0.03 0.03 0.00 -0.08 0.08 -0.05 0.05
700 -0.01 0.01 0.01 0.04 0.03 0.01 -0.08 0.08 -0.05 0.05
750 -0.01 0.01 0.00 0.03 0.01 0.02 -0.08 0.08 -0.05 0.05
800 0.00 0.01 -0.01 0.02 0.00 0.01 -0.08 0.08 -0.05 0.05
850 -0.01 0.02 0.00 0.02 0.02 -0.01 -0.08 0.08 -0.05 0.05
900 -0.01 0.02 0.01 0.01 0.03 0.01 -0.08 0.08 -0.05 0.05
950 0.00 0.01 0.00 0.02 0.02 0.02 -0.08 0.08 -0.05 0.05
985 0.00 0.01 -0.01 0.02 0.02 0.01 -0.07 0.07 -0.04 0.05
}\Tdc

\pgfplotstableread{
t C O R T U Z lo hi ilo ihi
0 -0.14 0.10 0.02 0.06 0.12 0.15 -0.15 0.18 -0.08 0.16
10 0.02 0.06 0.04 0.04 0.10 0.14 -0.06 0.18 -0.02 0.15
25 0.03 0.02 0.05 0.02 0.05 0.05 -0.05 0.12 -0.01 0.09
50 0.03 0.00 0.04 -0.02 0.01 -0.01 -0.05 0.09 -0.02 0.07
75 0.04 0.01 0.04 0.00 0.02 0.01 -0.05 0.09 -0.02 0.07
100 0.05 0.02 0.04 0.01 0.03 0.02 -0.05 0.09 -0.02 0.07
150 0.03 0.02 0.04 0.01 0.03 0.02 -0.05 0.09 -0.02 0.07
200 0.04 0.03 0.05 0.02 0.04 0.03 -0.05 0.09 -0.02 0.07
250 0.04 0.02 0.05 0.01 0.03 0.02 -0.05 0.10 -0.02 0.07
300 0.03 0.02 0.04 0.00 0.02 0.01 -0.05 0.09 -0.02 0.07
350 0.03 0.03 0.04 0.01 0.03 0.02 -0.05 0.09 -0.02 0.07
400 0.04 0.03 0.05 0.01 0.03 0.03 -0.05 0.10 -0.02 0.07
450 0.04 0.02 0.05 0.00 0.02 0.02 -0.06 0.09 -0.03 0.07
500 0.03 0.02 0.04 -0.01 0.01 0.00 -0.06 0.09 -0.03 0.07
550 0.03 0.03 0.03 0.01 0.02 0.01 -0.06 0.09 -0.03 0.07
600 0.04 0.03 0.04 0.02 0.02 0.02 -0.06 0.09 -0.03 0.07
650 0.05 0.02 0.04 0.01 0.03 0.03 -0.05 0.10 -0.02 0.07
700 0.04 0.02 0.05 0.01 0.04 0.03 -0.05 0.10 -0.02 0.07
750 0.04 0.03 0.05 0.02 0.03 0.02 -0.05 0.10 -0.02 0.07
800 0.03 0.03 0.04 0.02 0.02 0.02 -0.05 0.10 -0.02 0.07
850 0.03 0.02 0.04 0.01 0.03 0.03 -0.06 0.11 -0.02 0.08
900 0.04 0.02 0.05 -0.01 0.04 0.03 -0.06 0.12 -0.02 0.08
950 0.04 0.01 0.04 0.01 0.04 0.04 -0.06 0.14 -0.02 0.09
985 0.03 0.00 0.03 0.03 0.05 0.04 -0.06 0.10 -0.02 0.08
}\Tdd

\pgfplotsset{
  panel/.style={
    scale only axis, width=114.5pt, height=83.5pt, anchor=north west,
    xmin=-49, xmax=1038, ymin=-0.467, ymax=0.329,
    xtick={0,250,500,750,1000}, ytick={-0.4,-0.2,0,0.2},
    minor xtick={125,375,625,875}, minor ytick={-0.3,-0.1,0.1,0.3},
    grid=both,
    major grid style={draw=gmaj, line width=0.9pt},
    minor grid style={draw=gmin, line width=0.6pt},
    axis line style={draw=gborder, line width=1.15pt},
    tick align=outside, tick pos=left,
    major tick length=2.9pt, minor tick length=1.4pt,
    every tick/.style={black, line width=0.9pt},
    tick label style={font=\fontsize{9.5}{11}\selectfont, text=tickgrey},
    xticklabel style={rotate=90, anchor=east},
  },
  leftcol/.style={yticklabels={−0.4,−0.2,0,0.2}},
  inner/.style={yticklabels={}, ymajorticks=false},
  bottomrow/.style={xticklabels={0,250,500,750,1000}},
  upper/.style={xticklabels={}, xmajorticks=false},
  ser/.style={line width=2.5pt, opacity=0.85, line join=round, line cap=round},
}

\newcommand{\panel}[5]{%
\begin{axis}[panel, at={(#3,#4)}, #5]
\addplot[name path=oh#1, draw=none, forget plot] table[x=t,y=hi]{#2};
\addplot[name path=ol#1, draw=none, forget plot] table[x=t,y=lo]{#2};
\addplot[fill=black, fill opacity=0.10, draw=none] fill between[of=oh#1 and ol#1];
\addplot[name path=ih#1, draw=none, forget plot] table[x=t,y=ihi]{#2};
\addplot[name path=il#1, draw=none, forget plot] table[x=t,y=ilo]{#2};
\addplot[fill=black, fill opacity=0.10, draw=none] fill between[of=ih#1 and il#1];
\addplot[ser, cC] table[x=t,y=C]{#2};
\addplot[ser, cO] table[x=t,y=O]{#2};
\addplot[ser, cR] table[x=t,y=R]{#2};
\addplot[ser, cT] table[x=t,y=T]{#2};
\addplot[ser, cU] table[x=t,y=U]{#2};
\addplot[ser, cZ] table[x=t,y=Z]{#2};
\end{axis}}

\newcommand{\lkey}[3]{%
\begin{scope}[yshift=#2]
\fill[lgout] (572pt,-10.25pt) rectangle (593pt,10.25pt);
\fill[lgmid] (572pt,-5pt) rectangle (593pt,5pt);
\draw[lgbord, line width=0.6pt] (572pt,-10.25pt) rectangle (593pt,10.25pt);
\draw[#1, line width=2.5pt, opacity=0.9] (572pt,0pt) -- (593pt,0pt);
\node[anchor=west, inner sep=0pt, font=\fontsize{7.9}{9}\selectfont] at (597pt,0pt) {#3};
\end{scope}}

\begin{document}
\begin{tikzpicture}

\panel{aa}{\Taa}{58pt}{415pt}{leftcol, upper}
\panel{ab}{\Tab}{178.65pt}{415pt}{inner, upper}
\panel{ac}{\Tac}{299.35pt}{415pt}{inner, upper}
\panel{ad}{\Tad}{420pt}{415pt}{inner, upper}

\panel{ba}{\Tba}{58pt}{324.65pt}{leftcol, upper}
\panel{bb}{\Tbb}{178.65pt}{324.65pt}{inner, upper}
\panel{bc}{\Tbc}{299.35pt}{324.65pt}{inner, upper}
\panel{bd}{\Tbd}{420pt}{324.65pt}{inner, upper}

\panel{ca}{\Tca}{58pt}{234.35pt}{leftcol, upper}
\panel{cb}{\Tcb}{178.65pt}{234.35pt}{inner, upper}
\panel{cc}{\Tcc}{299.35pt}{234.35pt}{inner, upper}
\panel{cd}{\Tcd}{420pt}{234.35pt}{inner, upper}

\panel{da}{\Tda}{58pt}{144pt}{leftcol, bottomrow}
\panel{db}{\Tdb}{178.65pt}{144pt}{inner, bottomrow}
\panel{dc}{\Tdc}{299.35pt}{144pt}{inner, bottomrow}
\panel{dd}{\Tdd}{420pt}{144pt}{inner, bottomrow}

\node[font=\fontsize{16}{19}\selectfont] at (288.5pt,443.5pt) {Linear Gaussian D=10,K=20,N=100};
\node[font=\fontsize{15.8}{19}\selectfont, rotate=90] at (16pt,239.5pt) {Relative log density};
\node[font=\fontsize{15.8}{19}\selectfont] at (288.5pt,18pt) {Time (seconds)};

\node[anchor=west, inner sep=0pt, font=\fontsize{10.5}{12}\selectfont] at (572.5pt,310pt) {Test path};
\lkey{cC}{292pt}{Conditional}
\lkey{cO}{268.25pt}{Ones}
\lkey{cR}{244.5pt}{Random}
\lkey{cT}{220.75pt}{Two stage}
\lkey{cU}{197pt}{Unconditional}
\lkey{cZ}{173.25pt}{Zeros}

\pgfresetboundingbox
\path[use as bounding box] (0pt,0pt) rectangle (671pt,460pt);
\end{tikzpicture}
\end{document}
